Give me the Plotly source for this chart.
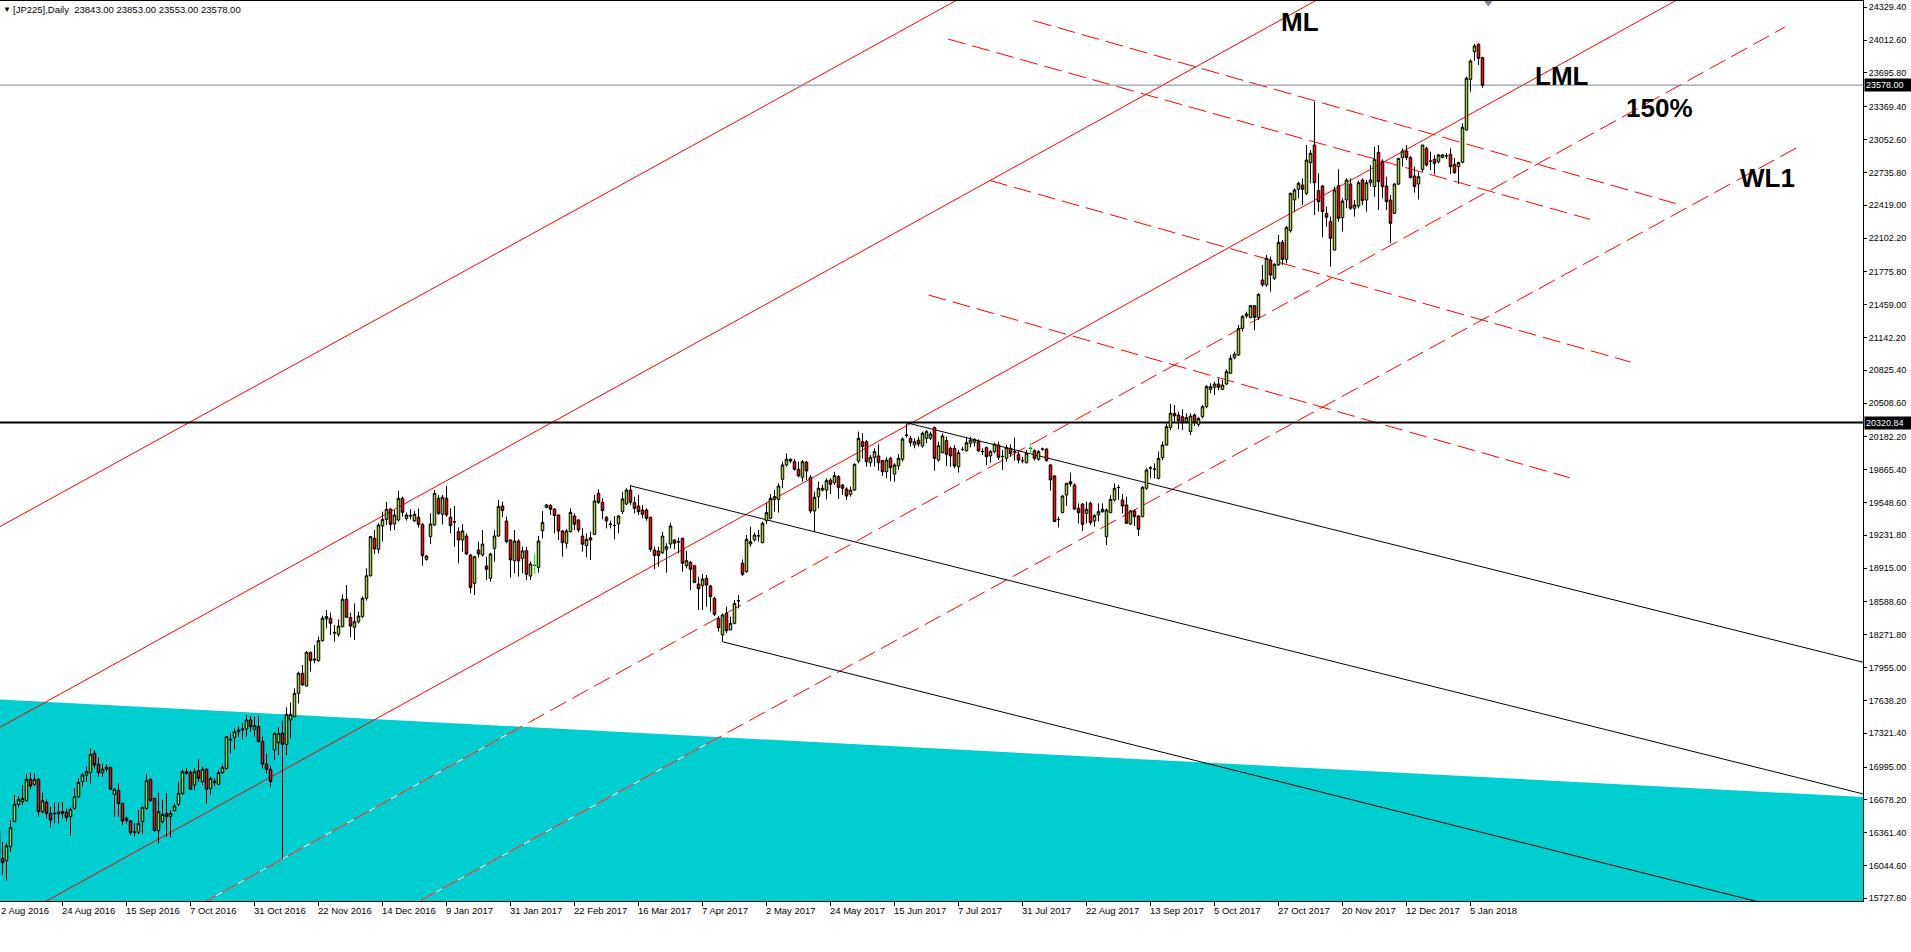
import plotly.graph_objects as go

# daily JP225 bars, 2 Aug 2016 .. 10 Jan 2018
opens = [
    16380, 16113, 16091, 16226, 16468, 16635, 16661, 16670, 16876, 16828,
    16876, 16564, 16654, 16548, 16548, 16542, 16567, 16561, 16516, 16596,
    16709, 16854, 16918, 16941, 17127, 17021, 16941, 16973, 16992, 16731,
    16767, 16644, 16477, 16474, 16365, 16365, 16468, 16596, 16876, 16693,
    16381, 16468, 16548, 16516, 16574, 16635, 16741, 16934, 16944, 16821,
    16960, 16854, 16973, 16789, 16844, 16828, 16941, 16982, 17256, 17282,
    17336, 17352, 17362, 17449, 17359, 17385, 17240, 17024, 16973, 17159,
    17230, 17320, 17214, 17449, 17481, 17706, 17900, 17777, 18102, 18038,
    18022, 18215, 18424, 18431, 18295, 18276, 18350, 18614, 18440, 18344,
    18398, 18447, 18624, 18842, 19203, 19097, 19322, 19386, 19486, 19341,
    19380, 19589, 19396, 19425, 19370, 19406, 19338, 19000, 19219, 19332,
    19589, 19435, 19589, 19406, 19364, 19267, 19187, 19225, 19042, 18769,
    19090, 19042, 18936, 18817, 19106, 19225, 19515, 19370, 19187, 18987,
    19177, 19010, 19084, 18839, 18942, 18923, 19277, 19502, 19521, 19486,
    19428, 19274, 19155, 19267, 19418, 19380, 19225, 19132, 19187, 19241,
    19637, 19550, 19406, 19341, 19325, 19341, 19460, 19534, 19669, 19547,
    19515, 19476, 19476, 19406, 19090, 19081, 19064, 19097, 19148, 19187,
    19171, 19203, 18939, 18971, 18939, 18762, 18746, 18817, 18743, 18624,
    18431, 18270, 18479, 18318, 18382, 18598, 18962, 18881, 19148, 19187,
    19225, 19161, 19373, 19396, 19579, 19579, 19772, 19911, 19966, 19943,
    19869, 19792, 19937, 19792, 19467, 19605, 19669, 19669, 19766, 19740,
    19798, 19718, 19679, 19628, 19669, 19949, 20136, 20136, 19933, 19985,
    19998, 19953, 19846, 19975, 19824, 19901, 19966, 20200, 20168, 20104,
    20152, 20094, 20168, 20168, 20274, 19959, 20030, 20146, 20072, 20072,
    19895, 20062, 20049, 20120, 20130, 20136, 20040, 20078, 19998, 20040,
    20104, 19991, 19975, 20072, 20040, 20014, 19953, 19933, 20072, 20049,
    19966, 20065, 20065, 19911, 19805, 19386, 19451, 19621, 19750, 19718,
    19492, 19534, 19444, 19541, 19370, 19428, 19460, 19219, 19451, 19573,
    19695, 19573, 19525, 19341, 19467, 19418, 19412, 19686, 19879, 19869,
    19782, 19982, 20104, 20274, 20410, 20393, 20377, 20329, 20233, 20393,
    20303, 20377, 20474, 20641, 20661, 20693, 20641, 20693, 20796, 20947,
    20973, 21230, 21349, 21336, 21449, 21336, 21697, 21649, 21890, 21713,
    21842, 22060, 21896, 22173, 22469, 22572, 22614, 22533, 22830, 23000,
    22559, 22604, 22340, 22260, 21986, 22607, 22299, 22469, 22623, 22389,
    22411, 22662, 22469, 22636, 22598, 22929, 22839, 22604, 22469, 22340,
    22623, 22878, 22942, 22878, 22701, 22623, 22765, 22968, 22846, 22862,
    22839, 22881, 22897, 22910, 22813, 22791, 22833, 23145, 23634, 23901,
    23972, 23843,
]
highs = [
    16420, 16274, 16258, 16484, 16725, 16715, 16821, 16928, 16941, 16934,
    16886, 16747, 16683, 16612, 16651, 16651, 16658, 16593, 16603, 16789,
    16886, 16934, 16998, 17175, 17159, 17088, 17031, 17021, 16998, 16789,
    16838, 16651, 16516, 16484, 16451, 16580, 16612, 16928, 16886, 16693,
    16747, 16677, 16741, 16580, 16644, 16854, 16973, 16982, 16966, 16982,
    17069, 16998, 16982, 16902, 16886, 16966, 17015, 17294, 17320, 17369,
    17385, 17417, 17497, 17488, 17481, 17488, 17288, 17127, 17005, 17327,
    17378, 17443, 17571, 17616, 17755, 17916, 17980, 18115, 18109, 18173,
    18254, 18456, 18511, 18485, 18366, 18421, 18662, 18752, 18485, 18575,
    18495, 18640, 18913, 19225, 19283, 19348, 19460, 19553, 19492, 19476,
    19663, 19605, 19451, 19483, 19467, 19492, 19348, 19042, 19444, 19669,
    19621, 19621, 19708, 19492, 19515, 19309, 19341, 19251, 19052, 19032,
    19171, 19283, 19026, 19064, 19283, 19573, 19557, 19412, 19193, 19283,
    19193, 19122, 19122, 18978, 19052, 19225, 19467, 19534, 19534, 19492,
    19435, 19283, 19293, 19492, 19444, 19386, 19299, 19251, 19267, 19621,
    19676, 19589, 19418, 19373, 19418, 19428, 19653, 19686, 19718, 19605,
    19621, 19525, 19492, 19412, 19122, 19122, 19267, 19155, 19354, 19193,
    19212, 19209, 19081, 18984, 18945, 18833, 18859, 18849, 18752, 18640,
    18453, 18479, 18543, 18447, 18608, 18656, 19000, 19235, 19315, 19258,
    19283, 19364, 19547, 19631, 19669, 19734, 19943, 20023, 19975, 19966,
    19943, 19959, 19949, 19814, 19653, 19750, 19718, 19782, 19782, 19846,
    19814, 19727, 19695, 19702, 19927, 20233, 20217, 20152, 20007, 20072,
    20110, 19959, 19985, 19991, 19927, 20017, 20178, 20313, 20191, 20168,
    20184, 20233, 20249, 20233, 20281, 20136, 20217, 20184, 20088, 20104,
    20056, 20088, 20184, 20184, 20168, 20159, 20072, 20088, 20056, 20126,
    20136, 20056, 20104, 20110, 20175, 20040, 19991, 20056, 20120, 20062,
    20056, 20078, 20072, 19920, 19814, 19412, 19621, 19734, 19837, 19734,
    19541, 19541, 19557, 19557, 19435, 19541, 19541, 19492, 19621, 19734,
    19718, 19631, 19605, 19476, 19483, 19428, 19708, 19879, 19901, 19927,
    20040, 20136, 20313, 20500, 20490, 20426, 20448, 20410, 20410, 20410,
    20371, 20490, 20683, 20699, 20715, 20748, 20731, 20834, 20973, 21005,
    21262, 21359, 21391, 21455, 21455, 21568, 21842, 21938, 21922, 21858,
    22131, 22083, 22218, 22540, 22582, 22646, 22678, 23000, 22952, 23418,
    22727, 22614, 22405, 22308, 22598, 22765, 22485, 22678, 22678, 22469,
    22656, 22678, 22662, 22807, 22984, 23000, 22862, 22694, 22517, 22630,
    22871, 22968, 23000, 22894, 22791, 22743, 23000, 22984, 22936, 22904,
    22913, 22913, 22920, 22968, 22871, 22839, 23209, 23660, 23827, 23975,
    23982, 23853,
]
lows = [
    16080, 15953, 15898, 16178, 16468, 16606, 16628, 16661, 16780, 16812,
    16516, 16548, 16500, 16413, 16451, 16451, 16500, 16468, 16332, 16580,
    16693, 16805, 16854, 16838, 16982, 16902, 16902, 16950, 16773, 16516,
    16516, 16435, 16451, 16339, 16323, 16348, 16348, 16580, 16661, 16371,
    16258, 16451, 16323, 16316, 16564, 16619, 16725, 16918, 16773, 16773,
    16854, 16821, 16644, 16725, 16812, 16821, 16928, 16966, 17127, 17166,
    17288, 17262, 17288, 17336, 17288, 17230, 16982, 16928, 16805, 17063,
    17111, 16104, 17111, 17272, 17475, 17610, 17777, 17771, 17916, 17996,
    18012, 18205, 18334, 18270, 18205, 18254, 18344, 18440, 18247, 18221,
    18382, 18431, 18601, 18833, 19052, 19058, 19171, 19331, 19277, 19283,
    19364, 19412, 19373, 19386, 19364, 19306, 18939, 18987, 19148, 19322,
    19428, 19338, 19412, 19251, 19122, 18962, 19074, 19042, 18672, 18656,
    19019, 19026, 18801, 18785, 18978, 19219, 19406, 19155, 18823, 18865,
    18833, 18865, 18801, 18801, 18859, 18871, 19203, 19492, 19428, 19251,
    19187, 19026, 19106, 19261, 19283, 19261, 19074, 19019, 18994, 19235,
    19534, 19386, 19299, 19299, 19193, 19251, 19438, 19525, 19525, 19444,
    19428, 19396, 19373, 19074, 18904, 18929, 19052, 18871, 19106, 19097,
    19058, 18881, 18913, 18704, 18775, 18511, 18511, 18543, 18495, 18453,
    18302, 18205, 18286, 18318, 18373, 18527, 18839, 18871, 19122, 19171,
    19171, 19155, 19341, 19386, 19460, 19451, 19686, 19895, 19927, 19856,
    19792, 19750, 19766, 19444, 19267, 19492, 19653, 19579, 19631, 19718,
    19583, 19621, 19573, 19605, 19663, 19927, 19975, 19895, 19895, 19895,
    19856, 19805, 19782, 19756, 19750, 19863, 19943, 20175, 20088, 20072,
    20088, 20078, 20120, 20152, 19856, 19943, 20023, 19901, 19895, 19879,
    19837, 20049, 20040, 20081, 20088, 20040, 20007, 19911, 19933, 20023,
    19959, 19863, 19943, 19991, 19953, 19927, 19927, 19927, 20017, 19953,
    19953, 20049, 19943, 19663, 19364, 19309, 19444, 19515, 19702, 19476,
    19348, 19274, 19348, 19332, 19315, 19364, 19451, 19138, 19444, 19557,
    19573, 19444, 19348, 19332, 19322, 19225, 19406, 19669, 19782, 19782,
    19773, 19959, 20094, 20249, 20329, 20255, 20249, 20313, 20200, 20287,
    20281, 20361, 20458, 20603, 20587, 20635, 20635, 20683, 20789, 20931,
    20963, 21198, 21327, 21327, 21214, 21311, 21632, 21632, 21584, 21697,
    21832, 21842, 21858, 22154, 22357, 22485, 22421, 22517, 22630, 22324,
    22357, 22109, 22212, 21825, 21980, 22260, 22163, 22389, 22373, 22308,
    22389, 22421, 22357, 22598, 22501, 22373, 22485, 22373, 22051, 22334,
    22614, 22791, 22855, 22678, 22540, 22475, 22743, 22791, 22759, 22717,
    22823, 22871, 22865, 22720, 22720, 22623, 22823, 23138, 23515, 23814,
    23772, 23553,
]
closes = [
    16120, 16072, 16233, 16410, 16635, 16683, 16693, 16876, 16812, 16876,
    16564, 16670, 16548, 16484, 16545, 16561, 16548, 16509, 16587, 16709,
    16847, 16918, 16950, 17117, 17015, 16941, 16973, 16992, 16780, 16780,
    16644, 16474, 16500, 16361, 16368, 16451, 16606, 16863, 16670, 16381,
    16564, 16538, 16516, 16548, 16619, 16741, 16950, 16950, 16780, 16950,
    16886, 16973, 16780, 16886, 16860, 16941, 16992, 17288, 17262, 17336,
    17352, 17362, 17449, 17385, 17394, 17240, 17024, 16973, 16854, 17320,
    17320, 17214, 17504, 17504, 17706, 17900, 17787, 18102, 18022, 18028,
    18215, 18431, 18447, 18382, 18289, 18356, 18614, 18440, 18356, 18398,
    18453, 18624, 18842, 19219, 19100, 19331, 19386, 19483, 19338, 19428,
    19589, 19454, 19428, 19420, 19435, 19338, 19036, 19032, 19341, 19637,
    19444, 19599, 19428, 19325, 19360, 19187, 19274, 19052, 18727, 19026,
    19052, 19148, 18904, 19052, 19225, 19509, 19470, 19171, 18994, 19177,
    18984, 19081, 18855, 18955, 18942, 19177, 19357, 19525, 19483, 19422,
    19274, 19161, 19274, 19454, 19338, 19283, 19145, 19193, 19209, 19563,
    19550, 19470, 19370, 19339, 19328, 19418, 19583, 19669, 19550, 19492,
    19460, 19435, 19396, 19097, 19036, 19036, 19225, 19122, 19322, 19155,
    19168, 18962, 18987, 18904, 18775, 18714, 18810, 18752, 18640, 18469,
    18340, 18463, 18311, 18382, 18575, 18600, 18855, 19193, 19171, 19235,
    19228, 19348, 19451, 19589, 19605, 19708, 19911, 19966, 19949, 19869,
    19805, 19943, 19853, 19467, 19599, 19686, 19686, 19760, 19724, 19808,
    19695, 19686, 19611, 19669, 19917, 20168, 20088, 19943, 19985, 20040,
    19933, 19846, 19959, 19885, 19911, 19975, 20162, 20198, 20126, 20136,
    20113, 20217, 20233, 20210, 19975, 20097, 20191, 20014, 19998, 19901,
    20030, 20060, 20126, 20152, 20159, 20046, 20042, 19991, 20040, 20113,
    19985, 19994, 20078, 20023, 20038, 19959, 19951, 20023, 20072, 19975,
    20040, 20063, 19953, 19766, 19364, 19384, 19611, 19734, 19727, 19486,
    19451, 19338, 19483, 19354, 19422, 19460, 19483, 19476, 19579, 19686,
    19693, 19515, 19348, 19467, 19412, 19290, 19695, 19863, 19882, 19872,
    19975, 20104, 20281, 20410, 20384, 20339, 20319, 20368, 20384, 20319,
    20361, 20474, 20667, 20667, 20693, 20661, 20683, 20812, 20941, 20982,
    21230, 21343, 21369, 21449, 21336, 21558, 21649, 21906, 21745, 21848,
    22060, 21896, 22205, 22533, 22566, 22630, 22572, 22855, 22920, 22636,
    22453, 22357, 22302, 22099, 22566, 22292, 22459, 22662, 22389, 22421,
    22636, 22463, 22636, 22662, 22862, 22646, 22598, 22453, 22244, 22623,
    22871, 22942, 22878, 22685, 22598, 22694, 23000, 22807, 22843, 22823,
    22904, 22904, 22895, 22791, 22733, 22830, 23171, 23644, 23811, 23956,
    23837, 23578,
]
bars = list(range(len(opens)))
lime_dojis = [134, 258]

date_bars = list(range(0, 369, 16))
date_labels = [
    "2 Aug 2016", "24 Aug 2016", "15 Sep 2016", "7 Oct 2016", "31 Oct 2016",
    "22 Nov 2016", "14 Dec 2016", "9 Jan 2017", "31 Jan 2017", "22 Feb 2017",
    "16 Mar 2017", "7 Apr 2017", "2 May 2017", "24 May 2017", "15 Jun 2017",
    "7 Jul 2017", "31 Jul 2017", "22 Aug 2017", "13 Sep 2017", "5 Oct 2017",
    "27 Oct 2017", "20 Nov 2017", "12 Dec 2017", "5 Jan 2018",
]
price_ticks = [
    24329.40, 24012.60, 23695.80, 23369.40, 23052.60, 22735.80, 22419.00,
    22102.20, 21775.80, 21459.00, 21142.20, 20825.40, 20508.60, 20182.20,
    19865.40, 19548.60, 19231.80, 18915.00, 18588.60, 18271.80, 17955.00,
    17638.20, 17321.40, 16995.00, 16678.20, 16361.40, 16044.60, 15727.80,
]
bid_price = 23578.00
level_price = 20320.84

# drawn objects, two (bar, price) points each
upper_bars, upper_prices = [-5, 250], [19202, 24620]
ml_bars, ml_prices = [-5, 340], [17264, 24622]
lml_bars, lml_prices = [-5, 430], [15339, 24622]
w150_bars, w150_prices = [45, 446.6], [15552, 24139]
wl1_bars, wl1_prices = [100, 450.8], [15590, 23000]
fan_bars = [[258.75, 419.3], [237.4, 397.9], [247.8, 408.0], [232.5, 392.8]]
fan_prices = [[24200, 22435], [24023, 22282], [22658, 20905], [21552, 19788]]
chan_bars = [[227.0, 470], [157.9, 470], [180.95, 450]]
chan_prices = [[20319, 17969], [19711, 16698], [18205, 15596]]
zone_bars = [-5, 470, 470, -5]
zone_prices = [17658, 16698, 15000, 15000]

tag_text = ["ML", "LML", "150%", "WL1"]
tag_bars = [325.4, 390.8, 415.2, 442.25]
tag_prices = [24190, 23668, 23362, 22681]

X_RANGE = [0.375, 466.125]
Y_RANGE = [15701.6, 24390.2]
RED = "#FF0000"
DASH = "18px,7px"
FONT = "Liberation Sans"

shapes = []


def seg(xs, ys, color, width=1, dash=None):
    shapes.append(dict(
        type="line", xref="x", yref="y", layer="below",
        x0=xs[0], y0=ys[0], x1=xs[1], y1=ys[1],
        line=dict(color=color, width=width, dash=dash),
    ))


zone_path = "M " + " L ".join(f"{b},{p}" for b, p in zip(zone_bars, zone_prices)) + " Z"
shapes.append(dict(type="path", xref="x", yref="y", layer="below", path=zone_path,
                   fillcolor="#00CED1", line=dict(width=0)))

for xs, ys in [(w150_bars, w150_prices), (wl1_bars, wl1_prices)]:
    seg(xs, ys, "white")
    seg(xs, ys, RED, dash=DASH)
for xs, ys in zip(fan_bars, fan_prices):
    seg(xs, ys, RED, dash=DASH)
for xs, ys in [(upper_bars, upper_prices), (ml_bars, ml_prices), (lml_bars, lml_prices)]:
    seg(xs, ys, RED)
for xs, ys in zip(chan_bars, chan_prices):
    seg(xs, ys, "black")
seg([-5, 470], [bid_price, bid_price], "#778899")
seg([-5, 470], [level_price, level_price], "black", width=2)

fig = go.Figure()
fig.add_trace(go.Candlestick(
    x=bars, open=opens, high=highs, low=lows, close=closes,
    increasing=dict(line=dict(color="black", width=1), fillcolor="#9ACD32"),
    decreasing=dict(line=dict(color="black", width=1), fillcolor="#FF0000"),
    whiskerwidth=0, hoverinfo="skip", showlegend=False,
))

lx, ly = [], []
for b in lime_dojis:
    lx += [b, b, None]
    ly += [highs[b], lows[b], None]
fig.add_trace(go.Scatter(x=lx, y=ly, mode="lines", line=dict(color="#00FF00", width=1),
                         hoverinfo="skip", showlegend=False))

# chart shift marker
fig.add_trace(go.Scatter(
    x=[372.45], y=[24380], mode="markers",
    marker=dict(symbol="triangle-down", size=9, color="#7B8794"),
    cliponaxis=False, hoverinfo="skip", showlegend=False,
))

ann = []
for t, b, p in zip(tag_text, tag_bars, tag_prices):
    ann.append(dict(x=b, y=p, text=t, showarrow=False, xanchor="center",
                    yanchor="middle",
                    font=dict(family=FONT, size=26, color="black", weight="bold")))
px_per_bar = 1863 / (X_RANGE[1] - X_RANGE[0])
for b, t in zip(date_bars, date_labels):
    xa = max(b, X_RANGE[0])
    shift = -3 - (xa - b) * px_per_bar
    if b < X_RANGE[0]:
        shift = -1  # first label kept inside the left edge
    ann.append(dict(x=xa, xref="x", y=0, yref="paper", text=t, showarrow=False,
                    xanchor="left", yanchor="top", xshift=shift, yshift=-2,
                    font=dict(family=FONT, size=9.5, color="black")))
for p in [bid_price, level_price]:
    ann.append(dict(x=1, xref="paper", y=p, yref="y", text=f"{p:.2f}",
                    showarrow=False, xanchor="left", yanchor="middle", xshift=1,
                    bgcolor="black", borderpad=1, width=44, align="left",
                    font=dict(family=FONT, size=9, color="white")))
ann.append(dict(x=0, xref="paper", y=1, yref="paper", text="▼", showarrow=False,
                xanchor="left", yanchor="top", xshift=1, yshift=-2,
                font=dict(family=FONT, size=8, color="black")))
ann.append(dict(x=0, xref="paper", y=1, yref="paper",
                text="[JP225],Daily  23843.00 23853.00 23553.00 23578.00",
                showarrow=False, xanchor="left", yanchor="top", xshift=11, yshift=-1,
                font=dict(family=FONT, size=9.5, color="black")))

fig.update_layout(
    width=1911, height=952, autosize=False,
    margin=dict(l=0, r=48, t=1, b=51, pad=0),
    paper_bgcolor="white", plot_bgcolor="white",
    showlegend=False, hovermode=False,
    boxgap=0.2, boxgroupgap=0.2,
    shapes=shapes, annotations=ann,
    xaxis=dict(
        range=X_RANGE, tickvals=date_bars, ticks="outside", ticklen=4,
        tickcolor="black", showticklabels=False, showgrid=False, zeroline=False,
        showline=True, linecolor="black", linewidth=1, mirror=True,
        rangeslider=dict(visible=False),
    ),
    yaxis=dict(
        range=Y_RANGE, side="right", tickvals=price_ticks,
        ticktext=[f"{v:.2f}" for v in price_ticks], ticks="outside", ticklen=3,
        tickcolor="black", showgrid=False, zeroline=False,
        showline=True, linecolor="black", linewidth=1,
        tickfont=dict(family=FONT, size=9, color="black"),
    ),
)

fig.write_html("out.html", config={"displayModeBar": False},
               post_script="document.body.style.margin='0';")
